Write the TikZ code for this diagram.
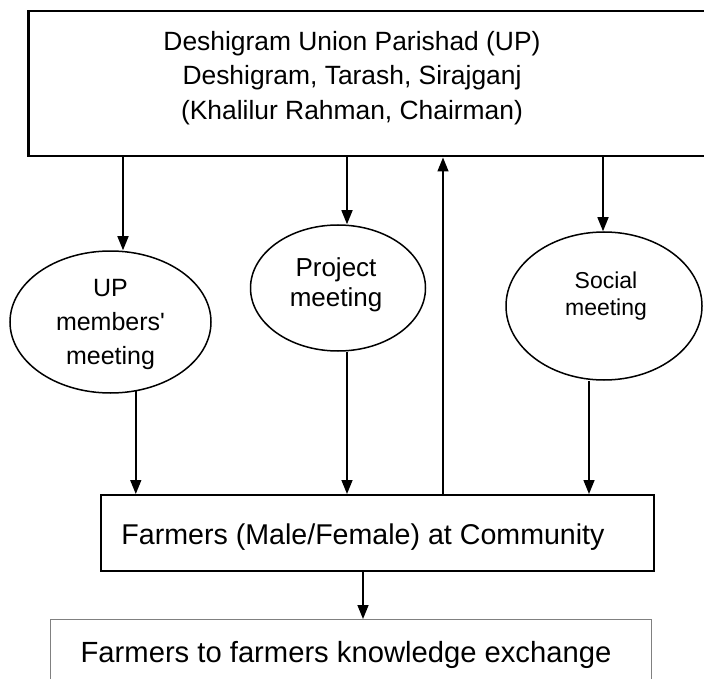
\documentclass[tikz,border=0pt]{standalone}
\usepackage{fontspec}
\setmainfont{Liberation Sans}
\usetikzlibrary{shapes.geometric,arrows.meta}
\begin{document}
\begin{tikzpicture}[x=1pt,y=-1pt,
  arr/.style={-{Triangle[width=11pt,length=14pt]}, line width=1.5pt},
  ell/.style={draw, ellipse, line width=1.5pt, inner sep=0pt},
  txt/.style={align=center, inner sep=0pt},
  ]
\useasboundingbox (0,0) rectangle (704,679);
\clip (0,0) rectangle (704,679);
% top box
\node[draw, line width=2.5pt, anchor=north west, minimum width=690pt, minimum height=145pt, inner sep=0pt] (up) at (27,10) {};
\node[txt, font=\fontsize{26.4}{34.5}\selectfont] (uptext) at (352,78) {Deshigram Union Parishad (UP)\\Deshigram, Tarash, Sirajganj\\(Khalilur Rahman, Chairman)};
% ellipses
\node[ell, minimum width=201pt, minimum height=142pt] (upm) at (110.5,322) {};
\node[txt, font=\fontsize{25}{34}\selectfont] (upmtext) at (110.5,324) {UP\\members\textquotesingle\\meeting};
\node[ell, minimum width=175pt, minimum height=126pt] (proj) at (338,288) {};
\node[txt, font=\fontsize{26}{30}\selectfont] (projtext) at (336,285) {Project\\meeting};
\node[ell, minimum width=196pt, minimum height=148pt] (soc) at (604,306) {};
\node[txt, font=\fontsize{23}{27}\selectfont] (soctext) at (606,296) {Social\\meeting};
% farmers box
\node[draw, line width=2pt, anchor=north west, minimum width=553pt, minimum height=76pt, inner sep=0pt] (farm) at (100,494) {};
\node[txt, font=\fontsize{28.6}{32}\selectfont] (farmtext) at (363,537) {Farmers (Male/Female) at Community};
% bottom box
\node[draw=gray, line width=1pt, anchor=north west, minimum width=601pt, minimum height=90pt, inner sep=0pt] (bot) at (50,619) {};
\node[txt, font=\fontsize{29.2}{32}\selectfont] (bottext) at (346,655) {Farmers to farmers knowledge exchange};
% x positions
\coordinate (xa) at (123,0);
\coordinate (xb) at (347,0);
\coordinate (xc) at (443,0);
\coordinate (xd) at (603,0);
\coordinate (xe) at (589,0);
\coordinate (xf) at (363,0);
% connectors
\draw[arr] (up.south -| xa) -- (upm.north -| xa);
\draw[arr] (up.south -| xb) -- (proj.north -| xb);
\draw[arr] (up.south -| xd) -- (soc.north -| xd);
\draw[arr] (farm.north -| xc) -- (up.south -| xc);
\draw[arr] (upm.290.4) -- (farm.north -| upm.290.4);
\draw[arr] (proj.south -| xb) -- (farm.north -| xb);
\draw[arr] (soc.south -| xe) -- (farm.north -| xe);
\draw[arr] (farm.south -| xf) -- (bot.north -| xf);
\end{tikzpicture}
\end{document}
